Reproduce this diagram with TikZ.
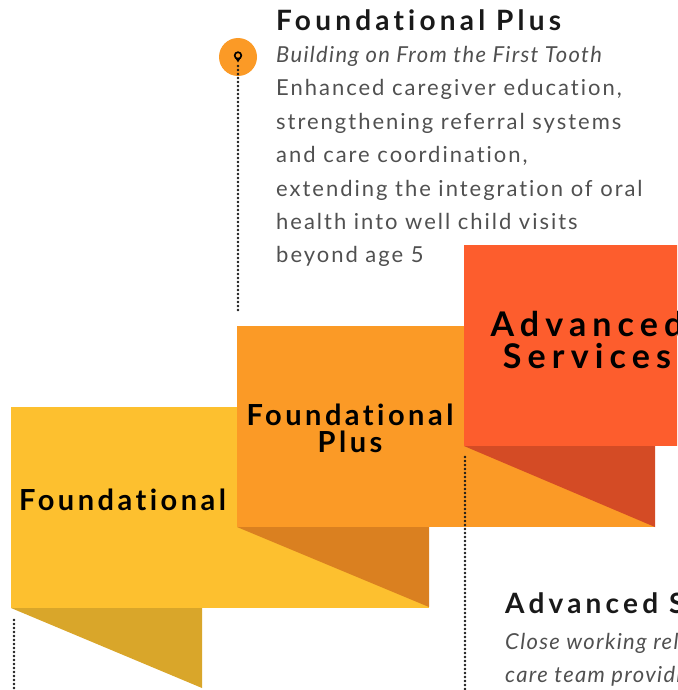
\documentclass[tikz,border=0pt]{standalone}
\usepackage{fontspec}
\setmainfont{Lato}[Ligatures={NoCommon}]
\usetikzlibrary{positioning}
\usepackage{xcolor}
\definecolor{jaune}{HTML}{FDC02F}
\definecolor{jaunepli}{HTML}{D9A62A}
\definecolor{orangeb}{HTML}{FB9A26}
\definecolor{orangepli}{HTML}{DA8020}
\definecolor{rouge}{HTML}{FD5D2D}
\definecolor{rougepli}{HTML}{D44B25}
\definecolor{gristxt}{HTML}{505050}
\newcommand\ital[1]{{\itshape\addfontfeatures{LetterSpace=6}#1}}

\begin{document}
\begin{tikzpicture}[x=1pt,y=-1pt,
    ban/.style={anchor=north west,inner sep=0pt,outer sep=0pt,minimum height=201},%
    lab/.style={align=center,inner sep=0pt,text=black,font=\bfseries\fontsize{29}{27}\selectfont\addfontfeatures{LetterSpace=12}},%
    pts/.style={dash pattern=on 0pt off 4pt,line cap=round,line width=2.8pt,draw=black!90},%
    tit/.style={anchor=base west,inner sep=0pt,text=black!90,font=\bfseries\fontsize{28}{28}\selectfont\addfontfeatures{LetterSpace=15}},%
    desc/.style={anchor=north west,inner sep=0pt,align=left,text=gristxt,font=\fontsize{22}{33.4}\selectfont\addfontfeatures{LetterSpace=9}}]
    \useasboundingbox (0,0) rectangle (677,690);
    \clip (0,0) rectangle (677,690);
    % les bandeaux
    \node[ban,fill=jaune,minimum width=418] (F) at (11,407) {};
    \fill[jaunepli] (F.south west) -- ++(191,0) -- ++(0,80) -- cycle;
    \node[ban,fill=orangeb,minimum width=418] (FP) at (237,326) {};
    \fill[orangepli] (FP.south west) -- ++(192,0) -- ++(0,80) -- cycle;
    \node[ban,fill=rouge,minimum width=240] (AS) at (464,245) {};
    \fill[rougepli] (AS.south west) -- ++(191,0) -- ++(0,81) -- cycle;
    \node[lab,anchor=west] (Fl) at (19,500) {Foundational};
    \node[lab] (FPl) at (350,428) {Foundational\\Plus};
    \node[lab,font=\bfseries\fontsize{34}{32}\selectfont\addfontfeatures{LetterSpace=18}] (ASl) at (587,340) {Advanced\\Services};
    % le repere
    \node[circle,fill=orangeb,inner sep=0pt,minimum size=38] (pin) at (238,57) {};
    \draw[line width=1.7pt] (238,55.5) circle (3.3);
    \fill (235.2,57.8) -- (240.8,57.8) -- (238,62.5) -- cycle;
    \coordinate (e1) at (238,312);
    \coordinate (e2) at (465,690);
    \coordinate (e3) at (14,690);
    \draw[pts] ([yshift=-9pt]pin.center) -- (e1);
    \draw[pts] ([xshift=1pt,yshift=-11pt]AS.south west) -- (e2);
    \draw[pts] ([xshift=3pt,yshift=-12pt]F.south west) -- (e3);
    % les textes
    \node[tit] (t1) at (276,31) {Foundational Plus};
    \node[desc] (d1) at (276,46) {\ital{Building on From the First Tooth}\\Enhanced caregiver education,\\strengthening referral systems\\and care coordination,\\extending the integration of oral\\health into well child visits\\beyond age 5};
    \node[tit] (t2) at (505,613) {Advanced Services};
    \node[desc] (d2) at (505,633) {\ital{Close working relationships}\\\ital{care team providing}};
\end{tikzpicture}
\end{document}
